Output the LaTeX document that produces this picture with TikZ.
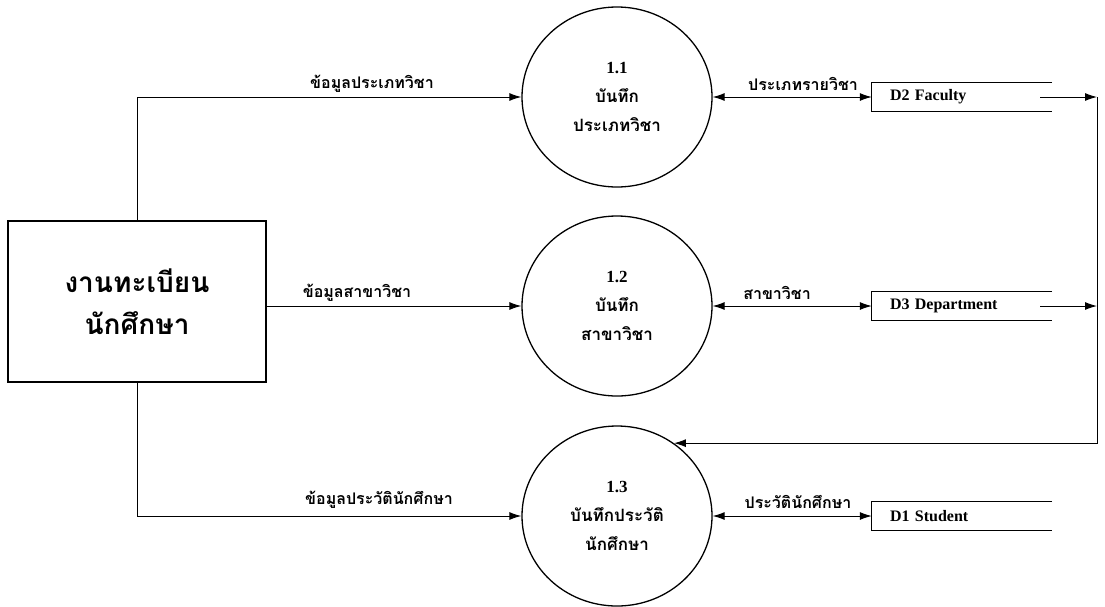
\documentclass[tikz,border=0pt]{standalone}
\usepackage{fontspec}
\setmainfont{Liberation Serif}
\newfontfamily\thai[Script=Thai]{Loma}
\usepackage{tikz}
\usetikzlibrary{shapes.geometric,arrows.meta}
\tikzstyle{ext} = [draw, line width=1.4pt, rectangle, minimum width=258pt, minimum height=161pt, align=center, font={\thai\bfseries\fontsize{28}{42}\selectfont}]
\tikzstyle{proc} = [draw, line width=1.3pt, ellipse, minimum width=190pt, minimum height=180pt, inner sep=0pt, align=center, font={\bfseries\fontsize{17}{29}\selectfont}]
\tikzstyle{store} = [inner xsep=18pt, inner ysep=0pt, text width=132pt, minimum height=29pt, align=left, font={\bfseries\fontsize{16}{18}\selectfont}]
\tikzstyle{lbl} = [inner sep=0pt, font={\thai\bfseries\fontsize{16}{18}\selectfont}]
\tikzstyle{flow} = [line width=1pt, -{Latex[length=12pt,width=8pt]}]
\tikzstyle{both} = [line width=1pt, {Latex[length=12pt,width=8pt]}-{Latex[length=12pt,width=8pt]}]

\begin{document}
\begin{tikzpicture}[x=1pt,y=-1pt]
  \useasboundingbox (0,0) rectangle (1105,606);
  \node[ext](reg) at (137,301.5){งานทะเบียน\\นักศึกษา};
  \node[proc](p1) at (617,97){1.1\\{\thai บันทึก}\\{\thai ประเภทวิชา}};
  \node[proc](p2) at (617,306){1.2\\{\thai บันทึก}\\{\thai สาขาวิชา}};
  \node[proc](p3) at (617,516){1.3\\{\thai บันทึกประวัติ}\\{\thai นักศึกษา}};
  \node[store](d2) at (956,97){D2 Faculty};
  \node[store](d3) at (956,306){D3 Department};
  \node[store](d1) at (956,516){D1 Student};
  \foreach \s in {d1,d2,d3}
    \draw[line width=1.2pt] ([xshift=12pt]\s.north east) -- (\s.north west) -- (\s.south west) -- ([xshift=12pt]\s.south east);
  \node[lbl](l1) at (372,84){ข้อมูลประเภทวิชา};
  \node[lbl](l2) at (357,293){ข้อมูลสาขาวิชา};
  \node[lbl](l3) at (379,500){ข้อมูลประวัตินักศึกษา};
  \node[lbl](l4) at (803,84){ประเภทรายวิชา};
  \node[lbl](l5) at (777,293){สาขาวิชา};
  \node[lbl](l6) at (798,502){ประวัตินักศึกษา};
  \coordinate (rt) at (1097,97);
  \draw[flow](reg.north) |- (p1);
  \draw[flow](reg.east |- p2) -- (p2);
  \draw[flow](reg.south) |- (p3);
  \draw[both](p1) -- (d2);
  \draw[both](p2) -- (d3);
  \draw[both](p3) -- (d1);
  \draw[flow](d2.east) -- (rt);
  \draw[flow](d3.east) -- (rt |- d3.east);
  \draw[flow](rt) -- (rt |- p3.52) -- (p3.52);
\end{tikzpicture}
\end{document}
